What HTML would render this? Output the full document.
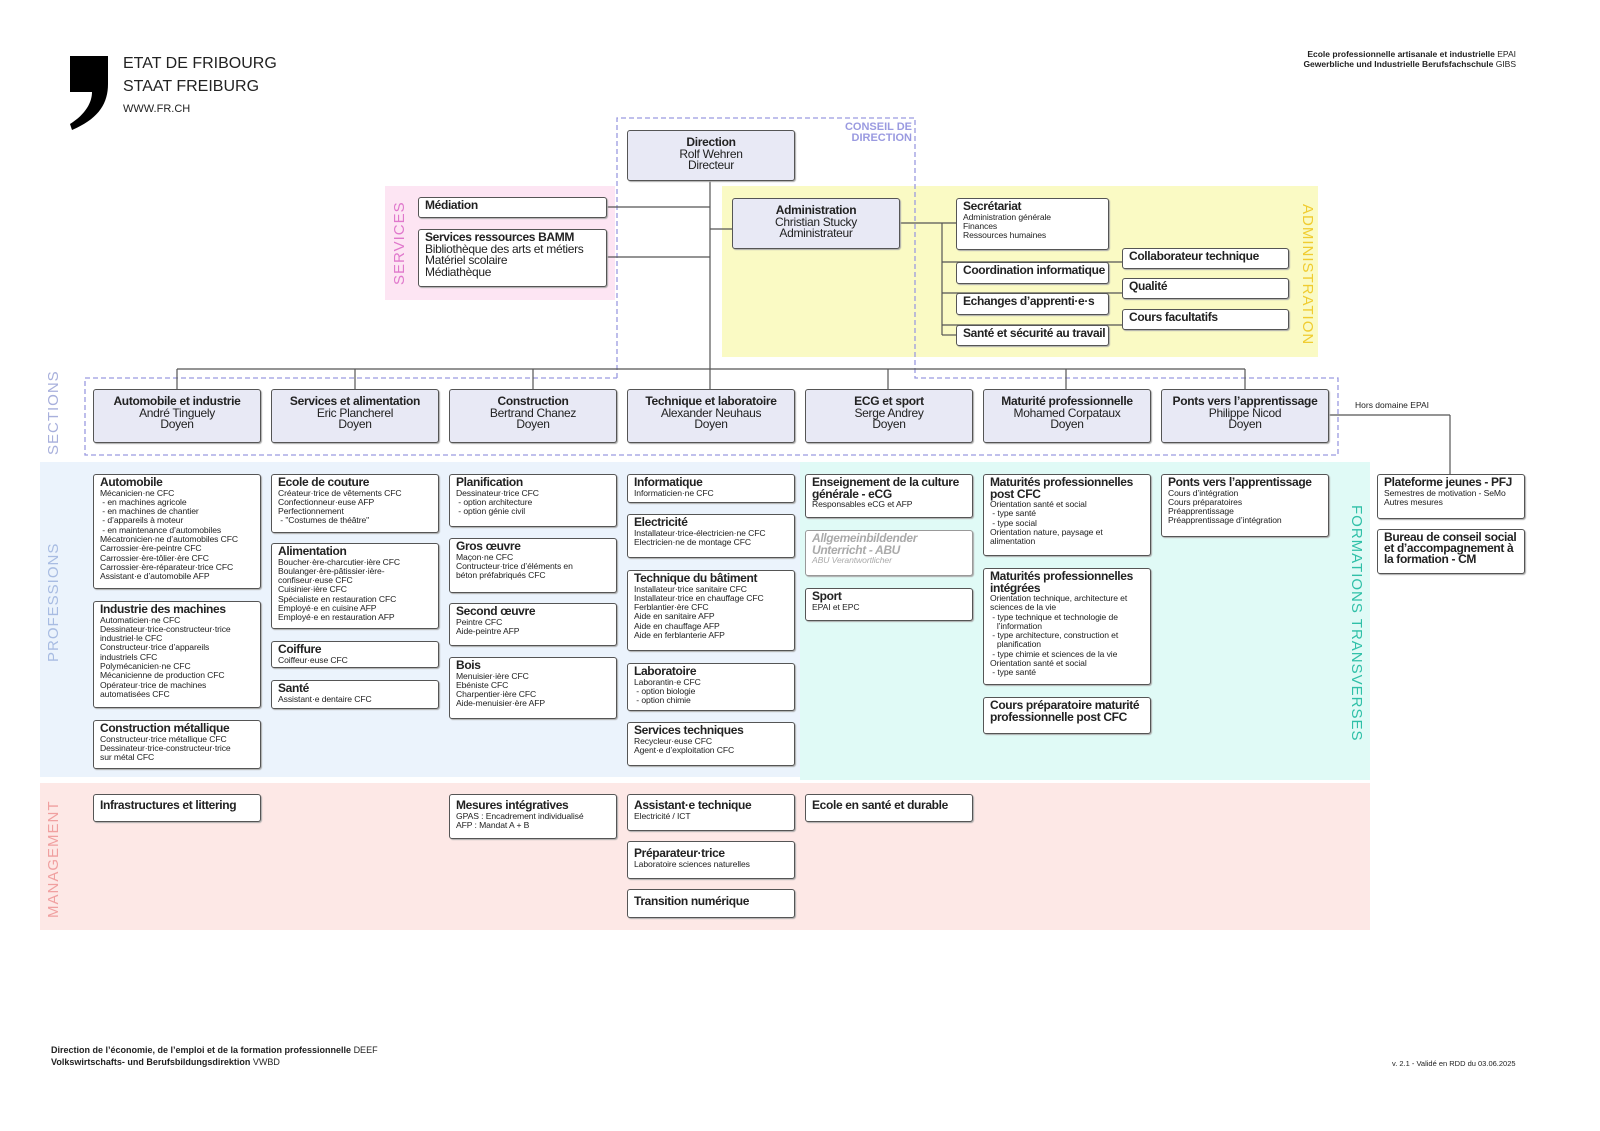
<!DOCTYPE html>
<html><head><meta charset="utf-8">
<style>
*{margin:0;padding:0;box-sizing:border-box}
body{width:1600px;height:1131px;background:#fff;position:relative;overflow:hidden;font-family:"Liberation Sans",Arial,sans-serif;color:#222}
.a{position:absolute}
.b{position:absolute;border:1.5px solid #555;border-radius:3px;background:#fff;box-shadow:1px 1px 1px #aaa;padding:2px 6px;overflow:hidden}
.t{font-weight:bold;font-size:12px;line-height:11.5px;color:#222;white-space:nowrap;letter-spacing:-0.35px}
.s{font-size:8.6px;line-height:9.3px;color:#222;white-space:nowrap;letter-spacing:-0.1px}
.sec{background:#e8e9f5;text-align:center;font-size:12px;line-height:11.5px;padding-top:6px;white-space:nowrap;letter-spacing:-0.3px}
.sec b{display:block}
.v{position:absolute;white-space:nowrap;font-size:15px;letter-spacing:1px}
.bg{position:absolute}
</style></head><body>

<div class="bg" style="left:385px;top:186px;width:230px;height:114px;background:#fde5f3"></div>
<div class="bg" style="left:722px;top:186px;width:596px;height:171px;background:#fafac4"></div>
<div class="bg" style="left:40px;top:462px;width:760px;height:315px;background:#ebf3fc"></div>
<div class="bg" style="left:800px;top:462px;width:570px;height:318px;background:#e0faf6"></div>
<div class="bg" style="left:40px;top:783px;width:1330px;height:147px;background:#fde8e6"></div>

<svg class="a" style="left:0;top:0" width="1600" height="1131">
<polyline points="617,378 617,118 915,118 915,378 1338,378 1338,455 85,455 85,378 617,378" fill="none" stroke="#9a9ae0" stroke-width="1.3" stroke-dasharray="5,3"/>
<g stroke="#555" stroke-width="1.2" fill="none">
<line x1="710" y1="180" x2="710" y2="389"/>
<line x1="177" y1="369" x2="1245" y2="369"/>
<line x1="177" y1="369" x2="177" y2="389"/><line x1="355" y1="369" x2="355" y2="389"/>
<line x1="533" y1="369" x2="533" y2="389"/><line x1="888" y1="369" x2="888" y2="389"/>
<line x1="1066" y1="369" x2="1066" y2="389"/><line x1="1245" y1="369" x2="1245" y2="389"/>
<line x1="606" y1="207" x2="710" y2="207"/><line x1="606" y1="257" x2="710" y2="257"/>
<line x1="710" y1="229" x2="732" y2="229"/>
<line x1="899" y1="223" x2="956" y2="223"/>
<line x1="942" y1="223" x2="942" y2="335"/>
<line x1="942" y1="262" x2="1122" y2="262"/>
<line x1="942" y1="293" x2="1122" y2="293"/>
<line x1="942" y1="325" x2="1122" y2="325"/>
<line x1="942" y1="335" x2="956" y2="335"/>
<line x1="1328" y1="415" x2="1450" y2="415"/><line x1="1450" y1="415" x2="1450" y2="474"/>
</g>
</svg>

<svg class="a" style="left:68px;top:54px" width="44" height="78"><path d="M2,2 L40,2 L40,30 C40,50 30,65 4,76 L2,70 C18,60 24,48 24,38 L2,38 Z" fill="#000"/></svg>
<div class="a" style="left:123px;top:52px;font-size:16px;line-height:23px">ETAT DE FRIBOURG<br>STAAT FREIBURG</div>
<div class="a" style="left:123px;top:103px;font-size:11px">WWW.FR.CH</div>
<div class="a" style="right:84px;top:49px;font-size:8.5px;line-height:10px;text-align:right;font-weight:bold">Ecole professionnelle artisanale et industrielle <span style="font-weight:normal">EPAI</span><br>Gewerbliche und Industrielle Berufsfachschule <span style="font-weight:normal">GIBS</span></div>

<div class="v" style="left:45px;top:455px;transform:rotate(-90deg);transform-origin:0 0;color:#a8b0dc">SECTIONS</div>
<div class="v" style="left:45px;top:662px;transform:rotate(-90deg);transform-origin:0 0;color:#a8bce2">PROFESSIONS</div>
<div class="v" style="left:45px;top:918px;transform:rotate(-90deg);transform-origin:0 0;color:#f0a0a0">MANAGEMENT</div>
<div class="v" style="left:391px;top:285px;transform:rotate(-90deg);transform-origin:0 0;color:#e078cc">SERVICES</div>
<div class="v" style="left:1316px;top:204px;transform:rotate(90deg);transform-origin:0 0;color:#f0cc30">ADMINISTRATION</div>
<div class="v" style="left:1365px;top:505px;transform:rotate(90deg);transform-origin:0 0;color:#30c0a8">FORMATIONS TRANSVERSES</div>

<div class="a" style="left:842px;top:122px;font-size:11px;line-height:11px;color:#9a9ae0;font-weight:bold;text-align:right;width:70px">CONSEIL DE DIRECTION</div>
<div class="a" style="left:1355px;top:400px;font-size:8.5px">Hors domaine EPAI</div>

<div class="b sec" style="left:627px;top:130px;width:168px;height:51px"><b>Direction</b>Rolf Wehren<br>Directeur</div>
<div class="b sec" style="left:732px;top:198px;width:168px;height:51px"><b>Administration</b>Christian Stucky<br>Administrateur</div>
<div class="b" style="left:418px;top:197px;width:189px;height:21px"><div class="t">Médiation</div></div>
<div class="b" style="left:418px;top:229px;width:189px;height:58px"><div class="t">Services ressources BAMM</div><div style="font-size:12px;line-height:11.5px;letter-spacing:-0.3px;white-space:nowrap">Bibliothèque des arts et métiers<br>Matériel scolaire<br>Médiathèque</div></div>

<div class="b" style="left:956px;top:198px;width:153px;height:52px"><div class="t">Secrétariat</div><div class="s">Administration générale<br>Finances<br>Ressources humaines</div></div>
<div class="b" style="left:956px;top:262px;width:153px;height:22px"><div class="t">Coordination informatique</div></div>
<div class="b" style="left:956px;top:293px;width:153px;height:22px"><div class="t">Echanges d’apprenti·e·s</div></div>
<div class="b" style="left:956px;top:325px;width:153px;height:21px"><div class="t">Santé et sécurité au travail</div></div>
<div class="b" style="left:1122px;top:248px;width:167px;height:21px"><div class="t">Collaborateur technique</div></div>
<div class="b" style="left:1122px;top:278px;width:167px;height:21px"><div class="t">Qualité</div></div>
<div class="b" style="left:1122px;top:309px;width:167px;height:21px"><div class="t">Cours facultatifs</div></div>

<div class="b sec" style="left:93px;top:389px;width:168px;height:54px"><b>Automobile et industrie</b>André Tinguely<br>Doyen</div>
<div class="b sec" style="left:271px;top:389px;width:168px;height:54px"><b>Services et alimentation</b>Eric Plancherel<br>Doyen</div>
<div class="b sec" style="left:449px;top:389px;width:168px;height:54px"><b>Construction</b>Bertrand Chanez<br>Doyen</div>
<div class="b sec" style="left:627px;top:389px;width:168px;height:54px"><b>Technique et laboratoire</b>Alexander Neuhaus<br>Doyen</div>
<div class="b sec" style="left:805px;top:389px;width:168px;height:54px"><b>ECG et sport</b>Serge Andrey<br>Doyen</div>
<div class="b sec" style="left:983px;top:389px;width:168px;height:54px"><b>Maturité professionnelle</b>Mohamed Corpataux<br>Doyen</div>
<div class="b sec" style="left:1161px;top:389px;width:168px;height:54px"><b>Ponts vers l’apprentissage</b>Philippe Nicod<br>Doyen</div>

<div class="b" style="left:93px;top:474px;width:168px;height:115px"><div class="t">Automobile</div><div class="s">Mécanicien·ne CFC<br>&nbsp;- en machines agricole<br>&nbsp;- en machines de chantier<br>&nbsp;- d’appareils à moteur<br>&nbsp;- en maintenance d’automobiles<br>Mécatronicien·ne d’automobiles CFC<br>Carrossier·ère-peintre CFC<br>Carrossier·ère-tôlier·ère CFC<br>Carrossier·ère-réparateur·trice CFC<br>Assistant·e d’automobile AFP</div></div>
<div class="b" style="left:93px;top:601px;width:168px;height:107px"><div class="t">Industrie des machines</div><div class="s">Automaticien·ne CFC<br>Dessinateur·trice-constructeur·trice<br>industriel·le CFC<br>Constructeur·trice d’appareils<br>industriels CFC<br>Polymécanicien·ne CFC<br>Mécanicienne de production CFC<br>Opérateur·trice de machines<br>automatisées CFC</div></div>
<div class="b" style="left:93px;top:720px;width:168px;height:49px"><div class="t">Construction métallique</div><div class="s">Constructeur·trice métallique CFC<br>Dessinateur·trice-constructeur·trice<br>sur métal CFC</div></div>
<div class="b" style="left:271px;top:474px;width:168px;height:59px"><div class="t">Ecole de couture</div><div class="s">Créateur·trice de vêtements CFC<br>Confectionneur·euse AFP<br>Perfectionnement<br>&nbsp;- "Costumes de théâtre"</div></div>
<div class="b" style="left:271px;top:543px;width:168px;height:86px"><div class="t">Alimentation</div><div class="s">Boucher·ère-charcutier·ière CFC<br>Boulanger·ère-pâtissier·ière-<br>confiseur·euse CFC<br>Cuisinier·ière CFC<br>Spécialiste en restauration CFC<br>Employé·e en cuisine AFP<br>Employé·e en restauration AFP</div></div>
<div class="b" style="left:271px;top:641px;width:168px;height:27px"><div class="t">Coiffure</div><div class="s">Coiffeur·euse CFC</div></div>
<div class="b" style="left:271px;top:680px;width:168px;height:29px"><div class="t">Santé</div><div class="s">Assistant·e dentaire CFC</div></div>
<div class="b" style="left:449px;top:474px;width:168px;height:53px"><div class="t">Planification</div><div class="s">Dessinateur·trice CFC<br>&nbsp;- option architecture<br>&nbsp;- option génie civil</div></div>
<div class="b" style="left:449px;top:538px;width:168px;height:55px"><div class="t">Gros œuvre</div><div class="s">Maçon·ne CFC<br>Contructeur·trice d’éléments en<br>béton préfabriqués CFC</div></div>
<div class="b" style="left:449px;top:603px;width:168px;height:43px"><div class="t">Second œuvre</div><div class="s">Peintre CFC<br>Aide-peintre AFP</div></div>
<div class="b" style="left:449px;top:657px;width:168px;height:62px"><div class="t">Bois</div><div class="s">Menuisier·ière CFC<br>Ebéniste CFC<br>Charpentier·ière CFC<br>Aide-menuisier·ère AFP</div></div>
<div class="b" style="left:627px;top:474px;width:168px;height:29px"><div class="t">Informatique</div><div class="s">Informaticien·ne CFC</div></div>
<div class="b" style="left:627px;top:514px;width:168px;height:44px"><div class="t">Electricité</div><div class="s">Installateur·trice-électricien·ne CFC<br>Electricien·ne de montage CFC</div></div>
<div class="b" style="left:627px;top:570px;width:168px;height:81px"><div class="t">Technique du bâtiment</div><div class="s">Installateur·trice sanitaire CFC<br>Installateur·trice en chauffage CFC<br>Ferblantier·ère CFC<br>Aide en sanitaire AFP<br>Aide en chauffage AFP<br>Aide en ferblanterie AFP</div></div>
<div class="b" style="left:627px;top:663px;width:168px;height:48px"><div class="t">Laboratoire</div><div class="s">Laborantin·e CFC<br>&nbsp;- option biologie<br>&nbsp;- option chimie</div></div>
<div class="b" style="left:627px;top:722px;width:168px;height:44px"><div class="t">Services techniques</div><div class="s">Recycleur·euse CFC<br>Agent·e d’exploitation CFC</div></div>
<div class="b" style="left:805px;top:474px;width:168px;height:44px"><div class="t">Enseignement de la culture<br>générale - eCG</div><div class="s">Responsables eCG et AFP</div></div>
<div class="b" style="left:805px;top:530px;width:168px;height:46px;border-color:#999"><div class="t" style="color:#aaa;font-style:italic">Allgemeinbildender<br>Unterricht - ABU</div><div class="s" style="color:#aaa;font-style:italic">ABU Verantwortlicher</div></div>
<div class="b" style="left:805px;top:588px;width:168px;height:33px"><div class="t">Sport</div><div class="s">EPAI et EPC</div></div>
<div class="b" style="left:983px;top:474px;width:168px;height:82px"><div class="t">Maturités professionnelles<br>post CFC</div><div class="s">Orientation santé et social<br>&nbsp;- type santé<br>&nbsp;- type social<br>Orientation nature, paysage et<br>alimentation</div></div>
<div class="b" style="left:983px;top:568px;width:168px;height:117px"><div class="t">Maturités professionnelles<br>intégrées</div><div class="s">Orientation technique, architecture et<br>sciences de la vie<br>&nbsp;- type technique et technologie de<br>&nbsp;&nbsp;&nbsp;l’information<br>&nbsp;- type architecture, construction et<br>&nbsp;&nbsp;&nbsp;planification<br>&nbsp;- type chimie et sciences de la vie<br>Orientation santé et social<br>&nbsp;- type santé</div></div>
<div class="b" style="left:983px;top:697px;width:168px;height:37px"><div class="t">Cours préparatoire maturité<br>professionnelle post CFC</div></div>
<div class="b" style="left:1161px;top:474px;width:168px;height:63px"><div class="t">Ponts vers l’apprentissage</div><div class="s">Cours d’intégration<br>Cours préparatoires<br>Préapprentissage<br>Préapprentissage d’intégration</div></div>
<div class="b" style="left:1377px;top:474px;width:148px;height:45px"><div class="t">Plateforme jeunes - PFJ</div><div class="s">Semestres de motivation - SeMo<br>Autres mesures</div></div>
<div class="b" style="left:1377px;top:529px;width:148px;height:45px"><div class="t" style="line-height:11px">Bureau de conseil social<br>et d’accompagnement à<br>la formation - CM</div></div>

<div class="b" style="left:93px;top:794px;width:168px;height:28px;padding-top:5px"><div class="t">Infrastructures et littering</div></div>
<div class="b" style="left:449px;top:794px;width:168px;height:45px;padding-top:5px"><div class="t">Mesures intégratives</div><div class="s">GPAS : Encadrement individualisé<br>AFP : Mandat A + B</div></div>
<div class="b" style="left:627px;top:794px;width:168px;height:37px;padding-top:5px"><div class="t">Assistant·e technique</div><div class="s">Electricité / ICT</div></div>
<div class="b" style="left:627px;top:841px;width:168px;height:38px;padding-top:6px"><div class="t">Préparateur·trice</div><div class="s">Laboratoire sciences naturelles</div></div>
<div class="b" style="left:627px;top:889px;width:168px;height:29px;padding-top:6px"><div class="t">Transition numérique</div></div>
<div class="b" style="left:805px;top:794px;width:168px;height:28px;padding-top:5px"><div class="t">Ecole en santé et durable</div></div>

<div class="a" style="left:51px;top:1044px;font-size:9px;line-height:12px;font-weight:bold">Direction de l’économie, de l’emploi et de la formation professionnelle <span style="font-weight:normal">DEEF</span><br>Volkswirtschafts- und Berufsbildungsdirektion <span style="font-weight:normal">VWBD</span></div>
<div class="a" style="left:1392px;top:1059px;font-size:7.5px">v. 2.1 - Validé en RDD du 03.06.2025</div>
</body></html>
